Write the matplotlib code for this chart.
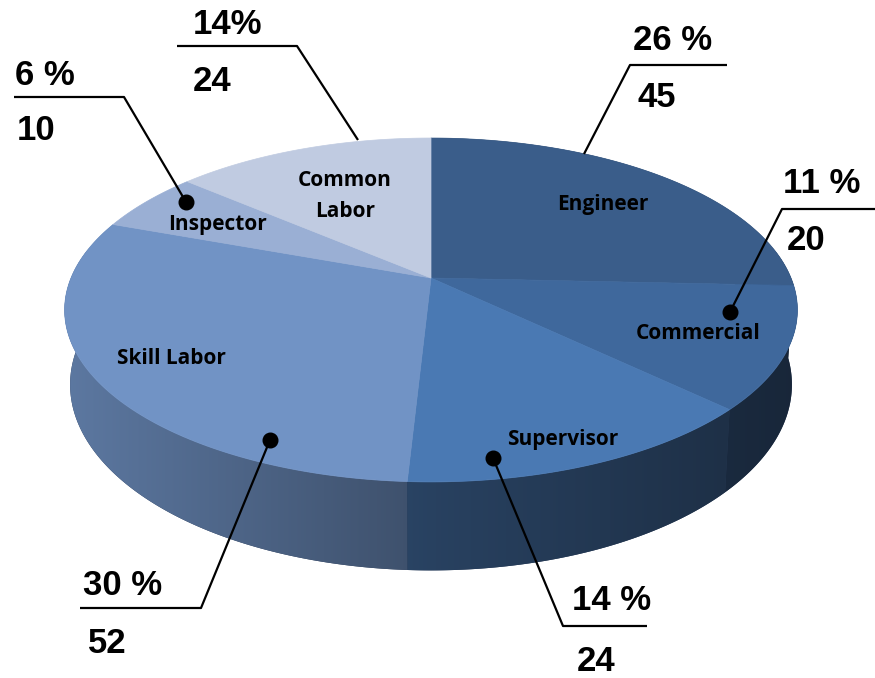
import numpy as np
import matplotlib.pyplot as plt
from matplotlib.patches import Polygon
from matplotlib.colors import to_rgb

# slice data, clockwise from 12 o'clock
labels = ["Engineer", "Commercial", "Supervisor", "Skill Labor", "Inspector", "Common\nLabor"]
counts = [45, 20, 24, 52, 10, 24]
pct_labels = ["26 %", "11 %", "14 %", "30 %", "6 %", "14%"]
top_colors = ["#3a5d8a", "#3f689c", "#4a79b3", "#7193c5", "#9aafd4", "#c0cbe1"]

# layout in pixel coords (figure is 875x678)
CX, CY, RX, RY, K, DEPTH, SHRINK = 431, 278, 360, 166, 0.186, 72, 0.985
W, H = 875, 678
name_pos = [(603, 210), (698, 339), (563, 445), (171, 364), (217, 230), (345, 217)]
pct_pos = [(633, 50), (783, 193), (572, 610), (83, 595), (15, 85), (193, 34)]
cnt_pos = [(637, 107), (787, 250), (577, 671), (88, 653), (17, 140), (193, 91)]
leaders = [
    [(584, 154), (630, 65), (727, 65)],
    [(730, 312), (782, 209), (875, 209)],
    [(493, 458), (563, 626), (647, 626)],
    [(270, 440), (201, 608), (80, 608)],
    [(186, 202), (124, 97), (14, 97)],
    [(358, 140), (297, 46), (177, 46)],
]
has_dot = [False, True, True, True, True, False]


def project(u, v, z=0.0):
    # simple perspective: front of the disc (v>0) is closer and bigger,
    # the bottom rim is a touch narrower than the top one
    w = 1 - K * v
    s = 1 - (1 - SHRINK) * z
    return CX + RX * s * u / w, CY + (RY * v + DEPTH * z) / w


def side_gradient(color):
    # darken by horizontal position: light on the left, dark on the right
    u = np.clip((np.arange(W) + 0.5 - CX) / RX, -1, 1)
    f = np.where(u < 0, 0.58 - 0.32 * u, 0.58 - 0.2 * u)
    rgb = np.array(to_rgb(color))
    row = f[:, None] * rgb[None, :]
    # pull the dark end slightly toward grey-navy
    row = row * 0.9 + 0.1 * np.array([0.16, 0.2, 0.28]) * (1 - f[:, None])
    return np.clip(np.repeat(row[None, :, :], 2, axis=0), 0, 1)


def band(phi0, phi1, n=300):
    phis = np.radians(np.linspace(phi0, phi1, n))
    u, v = np.cos(phis), -np.sin(phis)
    top = [project(a, b) for a, b in zip(u, v)]
    bot = [project(a, b, 1) for a, b in zip(u, v)]
    return v, top + bot[::-1]


fig = plt.figure(figsize=(8.75, 6.78), dpi=100)
ax = fig.add_axes([0, 0, 1, 1])
ax.axis("off")

total = sum(counts)
edges = 90 - 360 * np.concatenate([[0], np.cumsum(counts)]) / total

# dark backing under the front wall so seams between slices stay dark
_, back_pts = band(10, -190, 600)
ax.add_patch(Polygon(back_pts, closed=True, facecolor="#2a3a56",
                     edgecolor="none", zorder=-1))

# side walls, back to front, each a gradient clipped to its band
bands = []
for i in range(len(counts)):
    v, pts = band(edges[i], edges[i + 1])
    if v.max() < -0.3:
        continue
    bands.append((v.mean(), i, pts))
for _, i, pts in sorted(bands):
    clip = Polygon(pts, closed=True, transform=ax.transData)
    im = ax.imshow(side_gradient(top_colors[i]), extent=(0, W, H, 0),
                   aspect="auto", interpolation="bilinear", zorder=0)
    im.set_clip_path(clip)

# top faces
for i in range(len(counts)):
    phis = np.radians(np.linspace(edges[i], edges[i + 1], 200))
    pts = [project(0, 0)] + [project(np.cos(p), -np.sin(p)) for p in phis]
    ax.add_patch(Polygon(pts, closed=True, facecolor=top_colors[i],
                         edgecolor=top_colors[i], lw=0.5, zorder=1))

# slice names
for i, name in enumerate(labels):
    ax.text(*name_pos[i], name, ha="center", va="baseline", fontsize=15,
            fontfamily="Open Sans", fontweight="bold", linespacing=1.6, color="black")

# leaders with percent and count
for i in range(len(counts)):
    xs, ys = zip(*leaders[i])
    ax.plot(xs, ys, color="black", lw=1.6, solid_capstyle="butt")
    if has_dot[i]:
        ax.plot(xs[0], ys[0], "o", color="black", markersize=10.5)
    ax.text(*pct_pos[i], pct_labels[i], ha="left", va="baseline", fontsize=25,
            fontfamily="Liberation Sans", fontweight="bold")
    ax.text(*cnt_pos[i], str(counts[i]), ha="left", va="baseline", fontsize=25,
            fontfamily="Liberation Sans", fontweight="bold")

ax.set_xlim(0, W)
ax.set_ylim(H, 0)
fig.savefig("out.png", dpi=100)
